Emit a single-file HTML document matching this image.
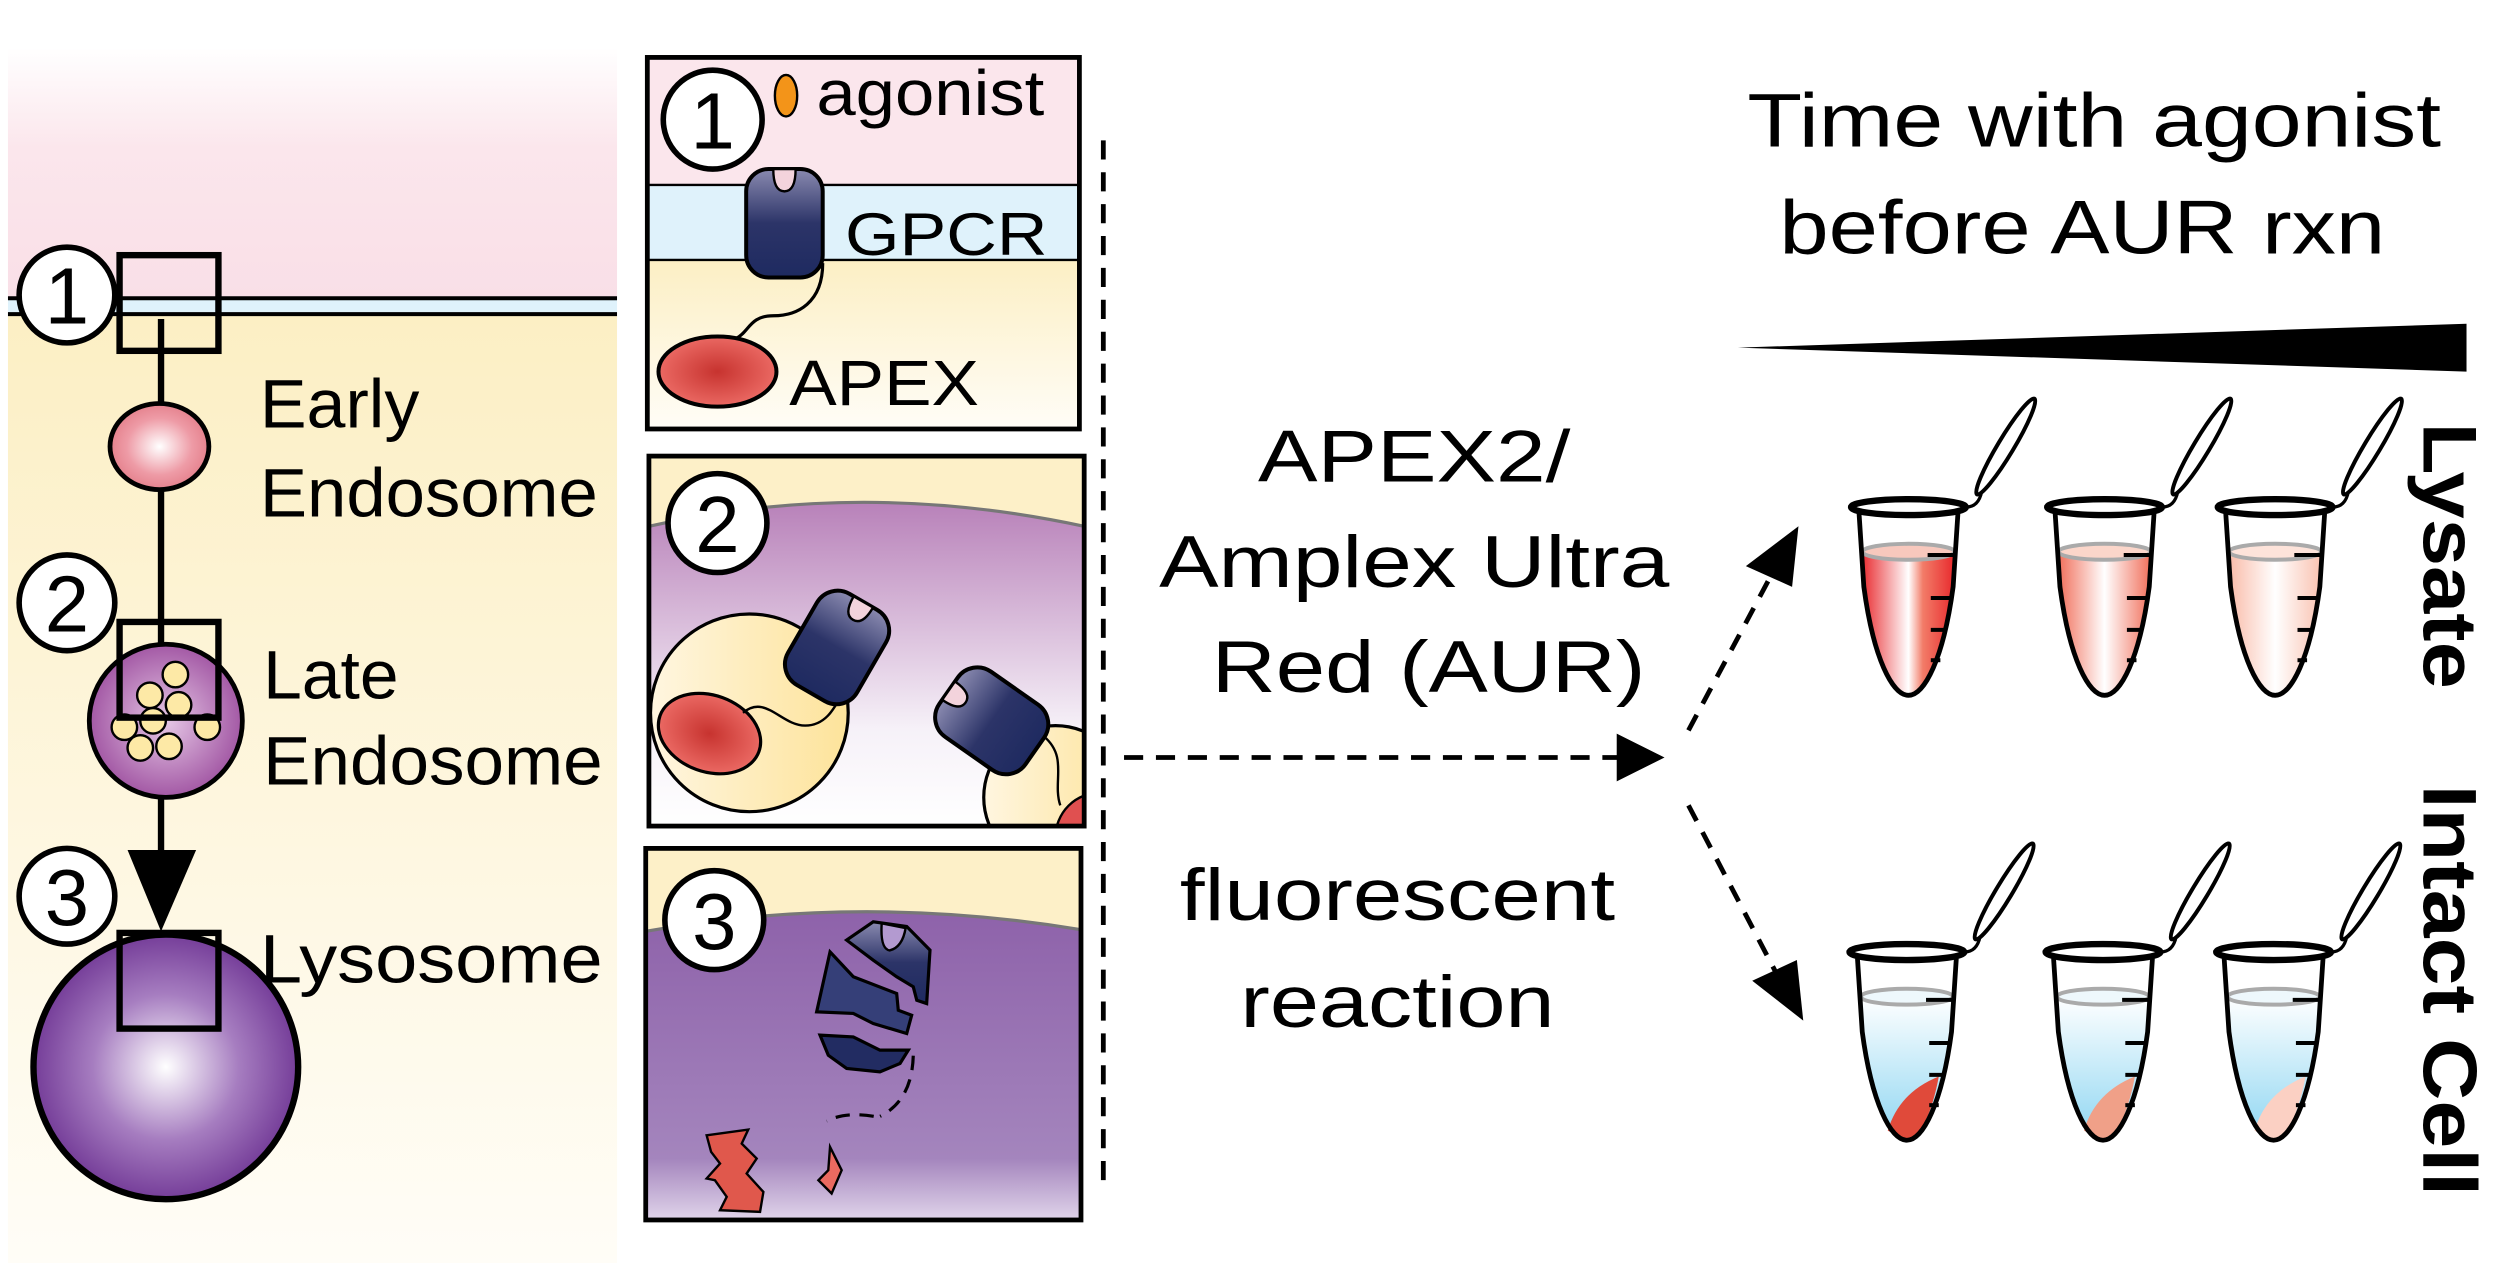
<!DOCTYPE html>
<html><head><meta charset="utf-8"><style>
html,body{margin:0;padding:0;background:#fff}
svg{display:block}
text{font-family:"Liberation Sans",sans-serif;fill:#000}
</style></head><body>
<svg width="2500" height="1271" viewBox="0 0 1568 797" preserveAspectRatio="none" xmlns="http://www.w3.org/2000/svg">
<defs>
<clipPath id="c2"><rect x="407" y="286" width="273" height="232"/></clipPath>
<linearGradient id="pinkbg" x1="0" y1="0" x2="0" y2="1"><stop offset="0" stop-color="#fff"/><stop offset="0.4" stop-color="#fbe6ec"/><stop offset="1" stop-color="#f9dfe7"/></linearGradient>
<linearGradient id="yelbg" x1="0" y1="0" x2="0" y2="1"><stop offset="0" stop-color="#fcefc4"/><stop offset="1" stop-color="#fffdf7"/></linearGradient>
<radialGradient id="early" cx="0.5" cy="0.5" r="0.55"><stop offset="0" stop-color="#fff"/><stop offset="0.6" stop-color="#ee9ba6"/><stop offset="1" stop-color="#e27a86"/></radialGradient>
<radialGradient id="late" cx="0.5" cy="0.5" r="0.55"><stop offset="0" stop-color="#e6c8e6"/><stop offset="1" stop-color="#9c4d9e"/></radialGradient>
<radialGradient id="lyso" cx="0.5" cy="0.5" r="0.55"><stop offset="0" stop-color="#fff"/><stop offset="0.5" stop-color="#a67dc0"/><stop offset="1" stop-color="#6a2f90"/></radialGradient>
<radialGradient id="apex" cx="0.5" cy="0.5" r="0.55"><stop offset="0" stop-color="#c7332f"/><stop offset="1" stop-color="#ee6e68"/></radialGradient>
<linearGradient id="gpcr" x1="0" y1="0" x2="0" y2="1"><stop offset="0" stop-color="#8a8ab0"/><stop offset="0.5" stop-color="#2c3468"/><stop offset="1" stop-color="#1e2a60"/></linearGradient>
<linearGradient id="p2bg" x1="0" y1="0" x2="0" y2="1"><stop offset="0" stop-color="#b881b9"/><stop offset="0.7" stop-color="#f6f1f8"/><stop offset="1" stop-color="#fff"/></linearGradient>
<linearGradient id="p3bg" x1="0" y1="0" x2="0" y2="1"><stop offset="0" stop-color="#8e62aa"/><stop offset="0.8" stop-color="#a485bd"/><stop offset="1" stop-color="#e0d4ea"/></linearGradient>
<linearGradient id="vesy" x1="0" y1="0" x2="1" y2="0"><stop offset="0" stop-color="#fff6e0"/><stop offset="1" stop-color="#fde39a"/></linearGradient>
<linearGradient id="red1" x1="0" y1="0" x2="1" y2="0"><stop offset="0" stop-color="#e8252a"/><stop offset="0.5" stop-color="#fff"/><stop offset="0.65" stop-color="#f27c68"/><stop offset="1" stop-color="#e8252a"/></linearGradient>
<linearGradient id="red2" x1="0" y1="0" x2="1" y2="0"><stop offset="0" stop-color="#f06a55"/><stop offset="0.5" stop-color="#fff"/><stop offset="1" stop-color="#f06a55"/></linearGradient>
<linearGradient id="red3" x1="0" y1="0" x2="1" y2="0"><stop offset="0" stop-color="#f9b9a6"/><stop offset="0.5" stop-color="#fff"/><stop offset="1" stop-color="#f9c0ae"/></linearGradient>
<linearGradient id="blue" x1="0" y1="0" x2="0" y2="1"><stop offset="0" stop-color="#fff"/><stop offset="1" stop-color="#8ed6f2"/></linearGradient>
</defs>

<rect x="5" y="30" width="382" height="157" fill="url(#pinkbg)"/>
<rect x="5" y="187" width="382" height="10" fill="#dff2fb"/>
<rect x="5" y="197" width="382" height="595" fill="url(#yelbg)"/>
<line x1="5" y1="187" x2="387" y2="187" stroke="#000" stroke-width="2.5"/>
<line x1="5" y1="197" x2="387" y2="197" stroke="#000" stroke-width="2.5"/>

<line x1="101" y1="200" x2="101" y2="560" stroke="#000" stroke-width="4"/>
<polygon points="80,533 123,533 101,584" fill="#000"/>

<ellipse cx="100" cy="280" rx="31" ry="27" fill="url(#early)" stroke="#000" stroke-width="3"/>
<circle cx="104" cy="452" r="48" fill="url(#late)" stroke="#000" stroke-width="3"/>
<g fill="#fde9a6" stroke="#000" stroke-width="1.5">
<circle cx="110" cy="423" r="8"/><circle cx="94" cy="436" r="8"/><circle cx="112" cy="442" r="8"/>
<circle cx="78" cy="456" r="8"/><circle cx="96" cy="452" r="8"/><circle cx="130" cy="456" r="8"/>
<circle cx="88" cy="469" r="8"/><circle cx="106" cy="468" r="8"/></g>
<circle cx="104" cy="669" r="83" fill="url(#lyso)" stroke="#000" stroke-width="4"/>

<g fill="none" stroke="#000" stroke-width="4">
<rect x="75" y="160" width="62" height="60"/>
<rect x="75" y="390" width="62" height="60"/>
<rect x="75" y="585" width="62" height="60"/>
</g>
<g fill="#fff" stroke="#000" stroke-width="3.5">
<circle cx="42" cy="185" r="30"/><circle cx="42" cy="378" r="30"/><circle cx="42" cy="562" r="30"/>
</g>
<g font-size="50" text-anchor="middle">
<text x="42" y="203">1</text><text x="42" y="396">2</text><text x="42" y="580">3</text>
</g>
<g font-size="43">
<text x="163" y="268" textLength="100" lengthAdjust="spacingAndGlyphs">Early</text>
<text x="163" y="324" textLength="212" lengthAdjust="spacingAndGlyphs">Endosome</text>
<text x="165" y="438" textLength="85" lengthAdjust="spacingAndGlyphs">Late</text>
<text x="165" y="492" textLength="213" lengthAdjust="spacingAndGlyphs">Endosome</text>
<text x="163" y="616" textLength="215" lengthAdjust="spacingAndGlyphs">Lysosome</text>
</g>

<!-- panel 1 -->
<rect x="406" y="36" width="271" height="80" fill="#fbe6ec"/>
<rect x="406" y="116" width="271" height="47" fill="#dff2fb"/>
<rect x="406" y="163" width="271" height="106" fill="url(#yelbg)"/>
<line x1="406" y1="116" x2="677" y2="116" stroke="#000" stroke-width="1.5"/>
<line x1="406" y1="163" x2="677" y2="163" stroke="#000" stroke-width="1.5"/>
<path d="M516,165 C516,190 500,198 485,198 C470,198 470,208 462,212" fill="none" stroke="#000" stroke-width="2"/>
<ellipse cx="450" cy="233" rx="37" ry="22" fill="url(#apex)" stroke="#000" stroke-width="2.5"/>
<rect x="468" y="106" width="48" height="68" rx="14" fill="url(#gpcr)" stroke="#000" stroke-width="2.5"/>
<path d="M485,106 Q485,120 492,120 Q499,120 499,106 Z" fill="#f3d3dc" stroke="#000" stroke-width="1.5"/>
<ellipse cx="493" cy="60" rx="7" ry="13" fill="#f39419" stroke="#000" stroke-width="1.5"/>
<rect x="406" y="36" width="271" height="233" fill="none" stroke="#000" stroke-width="3"/>
<circle cx="447" cy="75" r="31" fill="#fff" stroke="#000" stroke-width="3.5"/>
<text x="447" y="93" font-size="50" text-anchor="middle">1</text>
<text x="512" y="72" font-size="40" textLength="143" lengthAdjust="spacingAndGlyphs">agonist</text>
<text x="530" y="160" font-size="38" textLength="127" lengthAdjust="spacingAndGlyphs">GPCR</text>
<text x="495" y="254" font-size="40" textLength="119" lengthAdjust="spacingAndGlyphs">APEX</text>

<!-- panel 2 -->
<g clip-path="url(#c2)">
<rect x="407" y="286" width="273" height="232" fill="#fdf0c8"/>
<path d="M407,330 Q540,300 680,330 L680,518 L407,518 Z" fill="url(#p2bg)"/>
<path d="M407,330 Q540,300 680,330" fill="none" stroke="#777" stroke-width="2"/>
<circle cx="470" cy="447" r="62" fill="url(#vesy)" stroke="#000" stroke-width="2"/>
<circle cx="662" cy="500" r="45" fill="url(#vesy)" stroke="#000" stroke-width="2"/>
<ellipse cx="445" cy="460" rx="33" ry="24" transform="rotate(20 445 460)" fill="url(#apex)" stroke="#000" stroke-width="2"/>
<path d="M466,447 C480,435 490,455 505,455 C520,455 525,440 530,432" fill="none" stroke="#000" stroke-width="1.5"/>
<path d="M655,462 C670,475 660,490 665,505" fill="none" stroke="#000" stroke-width="1.5"/>
<circle cx="690" cy="525" r="28" fill="#e05050" stroke="#000" stroke-width="1.5"/>
<g transform="translate(525,406) rotate(30)">
<rect x="-25" y="-33" width="50" height="66" rx="15" fill="url(#gpcr)" stroke="#000" stroke-width="2.5"/>
<path d="M-7,-33 Q-7,-20 0,-20 Q7,-20 7,-33 Z" fill="#f3d3dc" stroke="#000" stroke-width="1.5"/>
</g>
<g transform="translate(622,452) rotate(-55)">
<rect x="-25" y="-33" width="50" height="66" rx="15" fill="url(#gpcr)" stroke="#000" stroke-width="2.5"/>
<path d="M-7,-33 Q-7,-20 0,-20 Q7,-20 7,-33 Z" fill="#f3d3dc" stroke="#000" stroke-width="1.5"/>
</g>
</g>
<rect x="407" y="286" width="273" height="232" fill="none" stroke="#000" stroke-width="3"/>
<circle cx="450" cy="328" r="31" fill="#fff" stroke="#000" stroke-width="3.5"/>
<text x="450" y="346" font-size="50" text-anchor="middle">2</text>

<!-- panel 3 -->
<rect x="405" y="532" width="273" height="233" fill="#fdf0c8"/>
<path d="M405,584 Q540,560 678,583 L678,765 L405,765 Z" fill="url(#p3bg)"/>
<path d="M405,584 Q540,560 678,583" fill="none" stroke="#777" stroke-width="2"/>
<path d="M531,589.5 L547.7,578 L568.7,581 L583.3,595.8 L581.2,629.3 L575,627.2 L572.8,618.8 L562.4,612.5 L547.7,602.1 Z" fill="url(#gpcr)" stroke="#000" stroke-width="2"/>
<path d="M553,579 Q552,595 558,596 Q566,594 568,582 Z" fill="#b39ad0" stroke="#000" stroke-width="1.5"/>
<path d="M520.6,596.9 L535.2,612.5 L562.4,623 L563.4,633.5 L571.8,636.6 L568.7,648.1 L547.7,641.8 L535.2,635.5 L512.2,634.5 Z" fill="#353f78" stroke="#000" stroke-width="2"/>
<path d="M514.3,649.1 L535.2,650.2 L551.9,658.5 L569.7,658.5 L564.5,666.9 L551.9,672.1 L531,670 L519.5,661.7 Z" fill="#222c62" stroke="#000" stroke-width="2"/>
<path d="M572.8,662 Q572,690 552,700 M548,700 Q530,697 518.5,703" fill="none" stroke="#000" stroke-width="2" stroke-dasharray="9,6"/>
<path d="M443.2,711.9 L469.3,708.3 L465.2,717.1 L474.6,726.5 L468.3,735.9 L478.8,747.4 L476.7,759.9 L451.6,758.9 L455.8,750.5 L448.4,740.1 L443.2,739 L451.6,729.6 L446,722.3 Z" fill="#e0584c" stroke="#000" stroke-width="1.5"/>
<path d="M520.6,719.2 L527.9,733.8 L521.6,748.4 L513.3,740.1 L519.5,733.8 Z" fill="#ea6a60" stroke="#000" stroke-width="1.5"/>
<rect x="405" y="532" width="273" height="233" fill="none" stroke="#000" stroke-width="3"/>
<circle cx="448" cy="577" r="31" fill="#fff" stroke="#000" stroke-width="3.5"/>
<text x="448" y="595" font-size="50" text-anchor="middle">3</text>

<line x1="692" y1="88" x2="692" y2="745" stroke="#000" stroke-width="3" stroke-dasharray="12,8"/>
<line x1="705" y1="475" x2="1015" y2="475" stroke="#000" stroke-width="3" stroke-dasharray="12,8"/>
<polygon points="1014,460 1044,475 1014,490" fill="#000"/>
<line x1="1059" y1="458" x2="1115" y2="353" stroke="#000" stroke-width="3" stroke-dasharray="11,8"/>
<polygon points="1128,330 1095,355 1124,368" fill="#000"/>
<line x1="1059" y1="505" x2="1115" y2="612" stroke="#000" stroke-width="3" stroke-dasharray="11,8"/>
<polygon points="1131,640 1099,615 1127,602" fill="#000"/>

<g font-size="46">
<text x="789" y="302" textLength="196" lengthAdjust="spacingAndGlyphs">APEX2/</text>
<text x="727" y="368" textLength="320" lengthAdjust="spacingAndGlyphs">Amplex Ultra</text>
<text x="760" y="434" textLength="272" lengthAdjust="spacingAndGlyphs">Red (AUR)</text>
<text x="740" y="577" textLength="273" lengthAdjust="spacingAndGlyphs">fluorescent</text>
<text x="778" y="644" textLength="197" lengthAdjust="spacingAndGlyphs">reaction</text>
<text x="1096" y="92" font-size="48" textLength="435" lengthAdjust="spacingAndGlyphs">Time with agonist</text>
<text x="1116" y="159" font-size="48" textLength="380" lengthAdjust="spacingAndGlyphs">before AUR rxn</text>
</g>
<polygon points="1090,218 1547,203 1547,233" fill="#000"/>

<g font-size="48" font-weight="bold">
<text transform="translate(1520,265) rotate(90)" textLength="167" lengthAdjust="spacingAndGlyphs">Lysate</text>
<text transform="translate(1520,492) rotate(90)" textLength="258" lengthAdjust="spacingAndGlyphs">Intact Cell</text>
</g>

<g stroke="#000" stroke-width="3" fill="none">
<g transform="translate(1197,318)">
<path d="M-30,28 L-28,50 C-22,95 -10,118 0,118 C10,118 22,95 28,50 L30,28 Z" fill="url(#red1)" stroke="none"/>
<ellipse cx="0" cy="28" rx="29" ry="5" fill="#f7c8bd" stroke="#aaa" stroke-width="2.5"/>
<path d="M-31,4 L-28,50 C-22,95 -10,118 0,118 C10,118 22,95 28,50 L31,4"/>
<ellipse cx="0" cy="0" rx="36" ry="5" fill="#fff" stroke-width="4"/>
<path d="M36,0 Q44,0 46,-10" stroke-width="2"/>
<ellipse cx="61" cy="-38" rx="35" ry="5" transform="rotate(-59 61 -38)" fill="#fff" stroke-width="2.5"/>
<g stroke-width="2.5"><line x1="12" y1="30" x2="30" y2="30"/><line x1="14" y1="57" x2="26" y2="57"/><line x1="14" y1="77" x2="24" y2="77"/><line x1="14" y1="96" x2="20" y2="96"/></g>
</g>
<g transform="translate(1320,318)">
<path d="M-30,28 L-28,50 C-22,95 -10,118 0,118 C10,118 22,95 28,50 L30,28 Z" fill="url(#red2)" stroke="none"/>
<ellipse cx="0" cy="28" rx="29" ry="5" fill="#fbd6ca" stroke="#aaa" stroke-width="2.5"/>
<path d="M-31,4 L-28,50 C-22,95 -10,118 0,118 C10,118 22,95 28,50 L31,4"/>
<ellipse cx="0" cy="0" rx="36" ry="5" fill="#fff" stroke-width="4"/>
<path d="M36,0 Q44,0 46,-10" stroke-width="2"/>
<ellipse cx="61" cy="-38" rx="35" ry="5" transform="rotate(-59 61 -38)" fill="#fff" stroke-width="2.5"/>
<g stroke-width="2.5"><line x1="12" y1="30" x2="30" y2="30"/><line x1="14" y1="57" x2="26" y2="57"/><line x1="14" y1="77" x2="24" y2="77"/><line x1="14" y1="96" x2="20" y2="96"/></g>
</g>
<g transform="translate(1427,318)">
<path d="M-30,28 L-28,50 C-22,95 -10,118 0,118 C10,118 22,95 28,50 L30,28 Z" fill="url(#red3)" stroke="none"/>
<ellipse cx="0" cy="28" rx="29" ry="5" fill="#fde3da" stroke="#aaa" stroke-width="2.5"/>
<path d="M-31,4 L-28,50 C-22,95 -10,118 0,118 C10,118 22,95 28,50 L31,4"/>
<ellipse cx="0" cy="0" rx="36" ry="5" fill="#fff" stroke-width="4"/>
<path d="M36,0 Q44,0 46,-10" stroke-width="2"/>
<ellipse cx="61" cy="-38" rx="35" ry="5" transform="rotate(-59 61 -38)" fill="#fff" stroke-width="2.5"/>
<g stroke-width="2.5"><line x1="12" y1="30" x2="30" y2="30"/><line x1="14" y1="57" x2="26" y2="57"/><line x1="14" y1="77" x2="24" y2="77"/><line x1="14" y1="96" x2="20" y2="96"/></g>
</g>
<g transform="translate(1196,597)">
<path d="M-30,28 L-28,50 C-22,95 -10,118 0,118 C10,118 22,95 28,50 L30,28 Z" fill="url(#blue)" stroke="none"/>
<path d="M-12,112 Q-5,88 20,78 C16,100 8,118 0,118 Z" fill="#e04a3a" stroke="none"/>
<ellipse cx="0" cy="28" rx="29" ry="5" fill="#eef8fc" stroke="#aaa" stroke-width="2.5"/>
<path d="M-31,4 L-28,50 C-22,95 -10,118 0,118 C10,118 22,95 28,50 L31,4"/>
<ellipse cx="0" cy="0" rx="36" ry="5" fill="#fff" stroke-width="4"/>
<path d="M36,0 Q44,0 46,-10" stroke-width="2"/>
<ellipse cx="61" cy="-38" rx="35" ry="5" transform="rotate(-59 61 -38)" fill="#fff" stroke-width="2.5"/>
<g stroke-width="2.5"><line x1="12" y1="30" x2="30" y2="30"/><line x1="14" y1="57" x2="26" y2="57"/><line x1="14" y1="77" x2="24" y2="77"/><line x1="14" y1="96" x2="20" y2="96"/></g>
</g>
<g transform="translate(1319,597)">
<path d="M-30,28 L-28,50 C-22,95 -10,118 0,118 C10,118 22,95 28,50 L30,28 Z" fill="url(#blue)" stroke="none"/>
<path d="M-12,112 Q-5,88 20,78 C16,100 8,118 0,118 Z" fill="#f0a088" stroke="none"/>
<ellipse cx="0" cy="28" rx="29" ry="5" fill="#eef8fc" stroke="#aaa" stroke-width="2.5"/>
<path d="M-31,4 L-28,50 C-22,95 -10,118 0,118 C10,118 22,95 28,50 L31,4"/>
<ellipse cx="0" cy="0" rx="36" ry="5" fill="#fff" stroke-width="4"/>
<path d="M36,0 Q44,0 46,-10" stroke-width="2"/>
<ellipse cx="61" cy="-38" rx="35" ry="5" transform="rotate(-59 61 -38)" fill="#fff" stroke-width="2.5"/>
<g stroke-width="2.5"><line x1="12" y1="30" x2="30" y2="30"/><line x1="14" y1="57" x2="26" y2="57"/><line x1="14" y1="77" x2="24" y2="77"/><line x1="14" y1="96" x2="20" y2="96"/></g>
</g>
<g transform="translate(1426,597)">
<path d="M-30,28 L-28,50 C-22,95 -10,118 0,118 C10,118 22,95 28,50 L30,28 Z" fill="url(#blue)" stroke="none"/>
<path d="M-12,112 Q-5,88 20,78 C16,100 8,118 0,118 Z" fill="#fbd0c3" stroke="none"/>
<ellipse cx="0" cy="28" rx="29" ry="5" fill="#eef8fc" stroke="#aaa" stroke-width="2.5"/>
<path d="M-31,4 L-28,50 C-22,95 -10,118 0,118 C10,118 22,95 28,50 L31,4"/>
<ellipse cx="0" cy="0" rx="36" ry="5" fill="#fff" stroke-width="4"/>
<path d="M36,0 Q44,0 46,-10" stroke-width="2"/>
<ellipse cx="61" cy="-38" rx="35" ry="5" transform="rotate(-59 61 -38)" fill="#fff" stroke-width="2.5"/>
<g stroke-width="2.5"><line x1="12" y1="30" x2="30" y2="30"/><line x1="14" y1="57" x2="26" y2="57"/><line x1="14" y1="77" x2="24" y2="77"/><line x1="14" y1="96" x2="20" y2="96"/></g>
</g>
</g>
</svg>
</body></html>
